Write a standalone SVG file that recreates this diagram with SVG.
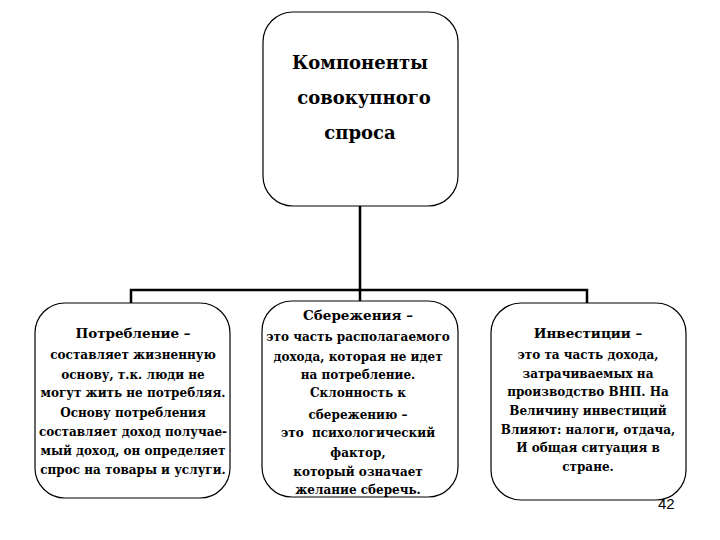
<svg xmlns="http://www.w3.org/2000/svg" width="720" height="540" viewBox="0 0 720 540">
<style>
.box{fill:#fff;stroke:#000;stroke-width:1.2}
.con{fill:none;stroke:#000;stroke-width:2.5}
.t{font-family:'DejaVu Serif','Liberation Serif',serif;text-anchor:middle;fill:#000;font-weight:bold}
.title{font-size:18px}
.h{font-size:13.5px}
.b{font-size:12px}
.pn{font-family:'Liberation Sans',Arial,sans-serif;font-size:15px;fill:#000}
</style>
<rect width="720" height="540" fill="#fff"/>
<g id="connectors">
<path class="con" d="M360 206 V303 M131 303 V290 H587 V303"/>
</g>
<g id="top">
<rect class="box" x="263" y="12" width="195" height="194" rx="30" ry="30"/>
<text class="t title" x="360" y="69">Компоненты</text>
<text class="t title" x="364" y="104">совокупного</text>
<text class="t title" x="360" y="139">спроса</text>
</g>
<g id="consumption">
<rect class="box" x="35" y="303" width="195" height="195" rx="30" ry="30"/>
<text class="t h" x="133" y="338">Потребление –</text>
<text class="t b" x="133" y="359">составляет жизненную</text>
<text class="t b" x="133" y="379">основу, т.к. люди не</text>
<text class="t b" x="133" y="397">могут жить не потребляя.</text>
<text class="t b" x="133" y="417">Основу потребления</text>
<text class="t b" x="133" y="436">составляет доход получае-</text>
<text class="t b" x="133" y="455">мый доход, он определяет</text>
<text class="t b" x="133" y="474">спрос на товары и услуги.</text>
</g>
<g id="savings">
<rect class="box" x="262" y="301" width="196" height="196" rx="30" ry="30"/>
<text class="t h" x="358" y="320">Сбережения –</text>
<text class="t b" x="358" y="341">это часть располагаемого</text>
<text class="t b" x="358" y="361">дохода, которая не идет</text>
<text class="t b" x="358" y="379">на потребление.</text>
<text class="t b" x="358" y="397">Склонность к</text>
<text class="t b" x="358" y="419">сбережению –</text>
<text class="t b" x="358" y="437" style="white-space:pre">это  психологический</text>
<text class="t b" x="358" y="457">фактор,</text>
<text class="t b" x="358" y="476">который означает</text>
<text class="t b" x="358" y="494">желание сберечь.</text>
</g>
<g id="investment">
<rect class="box" x="491" y="303" width="195" height="197" rx="30" ry="30"/>
<text class="t h" x="588" y="338">Инвестиции –</text>
<text class="t b" x="588" y="359">это та часть дохода,</text>
<text class="t b" x="588" y="378">затрачиваемых на</text>
<text class="t b" x="588" y="396">производство ВНП. На</text>
<text class="t b" x="588" y="415">Величину инвестиций</text>
<text class="t b" x="588" y="434">Влияют: налоги, отдача,</text>
<text class="t b" x="588" y="452">И общая ситуация в</text>
<text class="t b" x="588" y="471">стране.</text>
</g>
<text class="pn" x="658" y="509">42</text>
</svg>
